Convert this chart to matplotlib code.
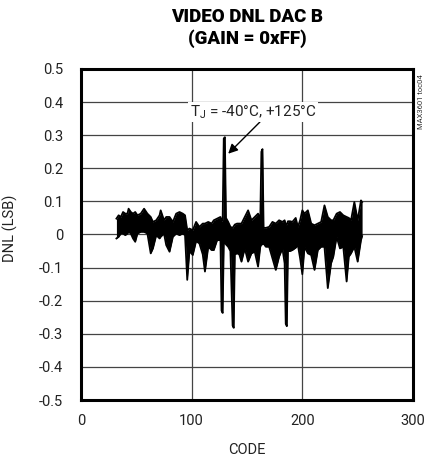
import matplotlib
matplotlib.use("Agg")
import matplotlib.pyplot as plt

# DNL envelope (both temperatures overlap into one band)
codes = [32, 34, 36, 38, 40, 42, 43, 45, 47, 49, 51, 54, 57, 60, 63, 65, 68, 71, 72,
         75, 77, 80, 83, 86, 89, 92, 94, 96, 98, 101, 104, 107, 110, 112, 115, 118,
         120, 123, 126, 127, 128, 129, 130, 131, 133, 135, 137, 138, 139, 141, 143,
         145, 148, 151, 154, 157, 160, 162, 163, 164, 165, 167, 170, 173, 176, 179,
         182, 184, 185, 186, 187, 189, 191, 194, 196, 198, 200, 202, 205, 208, 211,
         214, 217, 220, 223, 226, 228, 231, 234, 237, 240, 242, 244, 247, 250, 253, 254]
dnl_upper = [0.048, 0.058, 0.053, 0.068, 0.063, 0.063, 0.078, 0.068, 0.063, 0.068,
             0.058, 0.063, 0.078, 0.063, 0.053, 0.038, 0.043, 0.058, 0.073, 0.043,
             0.053, 0.053, 0.038, 0.063, 0.068, 0.063, 0.058, 0.013, 0.018, 0.013,
             0.038, 0.023, 0.033, 0.033, 0.038, 0.033, 0.043, 0.048, 0.053, 0.040,
             0.045, 0.290, 0.294, 0.050, 0.038, 0.023, 0.020, 0.025, 0.030, 0.033,
             0.033, 0.033, 0.053, 0.073, 0.043, 0.053, 0.063, 0.045, 0.250, 0.258,
             0.020, 0.020, 0.023, 0.038, 0.033, 0.043, 0.038, 0.043, 0.030, 0.030,
             0.040, 0.040, 0.038, 0.050, 0.023, 0.043, 0.073, 0.063, 0.073, 0.033,
             0.028, 0.033, 0.038, 0.088, 0.053, 0.043, 0.043, 0.063, 0.068, 0.058,
             0.053, 0.050, 0.043, 0.098, 0.043, 0.103, 0.098]
dnl_lower = [-0.012, -0.007, 0.003, 0.003, -0.002, 0.003, 0.008, 0.003, -0.012, -0.022,
             0.003, 0.008, 0.008, 0.003, -0.057, -0.042, -0.002, -0.012, -0.007, 0.003,
             -0.032, -0.052, -0.007, 0.003, -0.002, 0.003, -0.002, -0.137, -0.050, -0.062,
             -0.020, -0.027, -0.060, -0.112, -0.037, -0.047, -0.047, -0.017, -0.017, -0.230,
             -0.237, -0.030, -0.020, -0.030, -0.037, -0.050, -0.275, -0.282, -0.060, -0.057,
             -0.060, -0.082, -0.042, -0.082, -0.057, -0.052, -0.097, -0.037, -0.030, -0.030,
             -0.027, -0.037, -0.037, -0.072, -0.107, -0.067, -0.042, -0.087, -0.270, -0.277,
             -0.050, -0.050, -0.047, -0.040, -0.032, -0.072, -0.120, -0.037, -0.057, -0.062,
             -0.107, -0.047, -0.037, -0.037, -0.162, -0.087, -0.067, -0.007, -0.042, -0.037,
             -0.142, -0.067, -0.057, -0.037, -0.082, -0.017, -0.005]

xticks = [0, 100, 200, 300]
yticks = [0.5, 0.4, 0.3, 0.2, 0.1, 0.0, -0.1, -0.2, -0.3, -0.4, -0.5]
ytick_labels = ["0.5", "0.4", "0.3", "0.2", "0.1", "0", "-0.1", "-0.2", "-0.3", "-0.4", "-0.5"]

plt.rcParams["font.family"] = ["Roboto", "DejaVu Sans"]
plt.rcParams["mathtext.default"] = "regular"

fig = plt.figure(figsize=(4.25, 4.61), dpi=100)
fig.patch.set_facecolor("white")
ax = fig.add_axes([81 / 425, 61 / 461, 332 / 425, 331 / 461])

ax.fill_between(codes, dnl_lower, dnl_upper, color="black", linewidth=0)
ax.plot(codes, dnl_upper, color="black", lw=1.3)
ax.plot(codes, dnl_lower, color="black", lw=1.3)

ax.set_xlim(0, 300)
ax.set_ylim(-0.5, 0.5)
ax.set_xticks(xticks)
ax.set_yticks(yticks)
ax.set_yticklabels(ytick_labels)
ax.tick_params(length=0, labelsize=10.5, colors="#222")
ax.tick_params(axis="y", pad=13)
ax.tick_params(axis="x", pad=10)
ax.grid(True, color="#444444", lw=0.9)
ax.set_axisbelow(True)
for s in ax.spines.values():
    s.set_linewidth(2.2)
    s.set_color("black")

ax.set_ylabel("DNL (LSB)", fontsize=10.5, color="#222")
ax.yaxis.set_label_coords(-0.19, 0.52)
ax.text(0.5, -0.151, "CODE", transform=ax.transAxes, ha="center", va="center",
        fontsize=10.5, color="#222")

fig.text(247 / 425, 1 - 17.5 / 461, "VIDEO DNL DAC B", ha="center", va="center",
         fontsize=13.5, fontweight="black")
fig.text(247 / 425, 1 - 38.5 / 461, "(GAIN = 0xFF)", ha="center", va="center",
         fontsize=13.5, fontweight="black")
fig.text(421 / 425, 1 - 102 / 461, "MAX3601 toc04", rotation=90, ha="center",
         va="center", fontsize=5.5, color="#333")

ax.annotate("", xy=(133, 0.244), xytext=(161.7, 0.34),
            arrowprops=dict(arrowstyle="-|>", color="black", lw=1.0,
                            mutation_scale=14, shrinkA=0, shrinkB=0))
ax.text(155.4, 0.369, r"T$_{J}$ = -40°C, +125°C", ha="center", va="center",
        fontsize=11, color="#222",
        bbox=dict(facecolor="white", edgecolor="none", pad=1.0))

fig.savefig("out.png", dpi=100, facecolor="white")
